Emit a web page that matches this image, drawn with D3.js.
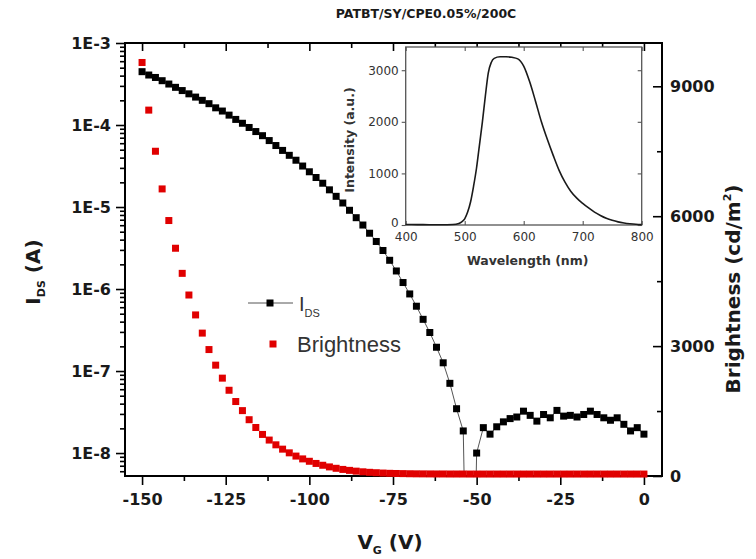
<!DOCTYPE html>
<html><head><meta charset="utf-8">
<script src="https://cdn.jsdelivr.net/npm/d3@7"></script>
<style>body{margin:0;background:#fff} svg{display:block}</style>
</head><body>
<svg id="c" width="756" height="559"></svg>
<script>
// ---------------- data ----------------
const chartTitle = "PATBT/SY/CPE0.05%/200C";
const vg = [-150,-148,-146,-144,-142,-140,-138,-136,-134,-132,
            -130,-128,-126,-124,-122,-120,-118,-116,-114,-112,
            -110,-108,-106,-104,-102,-100,-98,-96,-94,-92,
            -90,-88,-86,-84,-82,-80,-78,-76,-74,-72,
            -70,-68,-66,-64,-62,-60,-58,-56,-54,-52,
            -50,-48,-46,-44,-42,-40,-38,-36,-34,-32,
            -30,-28,-26,-24,-22,-20,-18,-16,-14,-12,
            -10,-8,-6,-4,-2,0];
const ids = [4.47e-4,4.07e-4,3.80e-4,3.47e-4,3.16e-4,2.88e-4,2.63e-4,2.40e-4,2.19e-4,2.00e-4,
             1.82e-4,1.62e-4,1.48e-4,1.32e-4,1.17e-4,1.05e-4,9.33e-5,8.32e-5,7.41e-5,6.46e-5,
             5.62e-5,4.90e-5,4.27e-5,3.72e-5,3.16e-5,2.69e-5,2.29e-5,1.95e-5,1.62e-5,1.35e-5,
             1.12e-5,9.12e-6,7.41e-6,6.03e-6,4.79e-6,3.80e-6,2.95e-6,2.24e-6,1.66e-6,1.20e-6,
             8.71e-7,6.17e-7,4.27e-7,2.95e-7,1.95e-7,1.26e-7,7.08e-8,3.47e-8,1.86e-8,1e-12,
             1.0e-8,2.04e-8,1.70e-8,2.09e-8,2.40e-8,2.63e-8,2.75e-8,3.24e-8,2.88e-8,2.45e-8,
             2.95e-8,2.69e-8,3.31e-8,2.82e-8,2.88e-8,2.75e-8,2.95e-8,3.24e-8,2.95e-8,2.69e-8,
             2.51e-8,2.69e-8,2.24e-8,1.86e-8,2.04e-8,1.70e-8];
const brightness = [9550,8450,7500,6630,5900,5260,4680,4180,3720,3300,
                    2920,2560,2260,1980,1720,1510,1300,1120,960,830,
                    720,620,535,460,395,340,290,248,210,178,
                    152,130,112,97,85,76,68,62,58,55,
                    52,50,49,48,47,47,46,46,46,45,
                    45,45,45,45,45,45,45,45,45,45,
                    45,45,45,45,45,45,45,45,45,45,
                    45,45,45,45,45,45];
const vgTicks = [-150,-125,-100,-75,-50,-25,0];
const vgMinor = [-137.5,-112.5,-87.5,-62.5,-37.5,-12.5];
const idsTicks = [1e-3,1e-4,1e-5,1e-6,1e-7,1e-8];
const brTicks = [0,3000,6000,9000];
const brMinor = [1500,4500,7500];
// inset spectrum
const wavelength = [400,420,440,460,480,490,495,500,505,510,515,520,525,530,535,540,545,550,560,570,580,590,600,610,620,630,640,650,660,670,680,690,700,710,720,730,740,750,760,770,780,790,800];
const intensity  = [10,8,6,5,10,30,60,120,250,450,750,1100,1550,2000,2500,2950,3150,3230,3260,3260,3250,3220,3080,2780,2400,2000,1660,1350,1060,830,650,520,420,330,250,185,130,90,60,40,25,14,8];
const wlTicks = [400,500,600,700,800];
const intTicks = [0,1000,2000,3000];

// ---------------- layout ----------------
const svg = d3.select("#c");
const L = 125, R = 662, T = 43, B = 476;
const FONT = "'DejaVu Sans', sans-serif";
const fmt = d => String(d);
const x = d3.scaleLinear().domain([-155.1, 5.4]).range([L, R]);
const yL = d3.scaleLog().domain([Math.pow(10,-8.28), 1e-3]).range([B, T]);
const yR = d3.scaleLinear().domain([0, 10000]).range([B, T]);

svg.append("defs").append("clipPath").attr("id","clip")
  .append("rect").attr("x",L).attr("y",T).attr("width",R-L).attr("height",B-T);

function styleAxis(g, size){
  g.select(".domain").remove();
  g.selectAll("line").attr("stroke","#000").attr("stroke-width",1.6);
  g.selectAll("text").attr("font-family",FONT).attr("font-weight","bold")
    .attr("font-size",size).attr("fill","#1a1a1a");
}

// bottom axis
const gB = svg.append("g").attr("transform",`translate(0,${B})`)
  .call(d3.axisBottom(x).tickValues(vgTicks).tickSize(9).tickPadding(9).tickFormat(fmt));
styleAxis(gB,16);
svg.append("g").attr("transform",`translate(0,${B})`)
  .call(d3.axisBottom(x).tickValues(vgMinor).tickSize(5).tickFormat(""))
  .call(g=>styleAxis(g,0));
// top axis (inward)
svg.append("g").attr("transform",`translate(0,${T})`)
  .call(d3.axisBottom(x).tickValues(vgTicks).tickSize(8).tickFormat(""))
  .call(g=>styleAxis(g,0));
svg.append("g").attr("transform",`translate(0,${T})`)
  .call(d3.axisBottom(x).tickValues(vgMinor).tickSize(5).tickFormat(""))
  .call(g=>styleAxis(g,0));

// left log axis
const gL = svg.append("g").attr("transform",`translate(${L},0)`)
  .call(d3.axisLeft(yL).tickValues(idsTicks).tickSize(9).tickPadding(5)
    .tickFormat(d => "1E" + Math.round(Math.log10(d))));
styleAxis(gL,16);
const minorLog = [];
[-9,-8,-7,-6,-5,-4].forEach(e => { for (let m=2;m<=9;m++){ const v=m*Math.pow(10,e); if (v>=yL.domain()[0] && v<1e-3) minorLog.push(v);} });
svg.append("g").attr("transform",`translate(${L},0)`)
  .call(d3.axisLeft(yL).tickValues(minorLog).tickSize(5).tickFormat(""))
  .call(g=>styleAxis(g,0));

// right axis (inward ticks)
const gR = svg.append("g").attr("transform",`translate(${R},0)`)
  .call(d3.axisRight(yR).tickValues(brTicks).tickSizeInner(-9).tickSizeOuter(0).tickPadding(8).tickFormat(fmt));
styleAxis(gR,16);
svg.append("g").attr("transform",`translate(${R},0)`)
  .call(d3.axisRight(yR).tickValues(brMinor).tickSizeInner(-5).tickSizeOuter(0).tickFormat(""))
  .call(g=>styleAxis(g,0));

// frame
svg.append("rect").attr("x",L).attr("y",T).attr("width",R-L).attr("height",B-T)
  .attr("fill","none").attr("stroke","#000").attr("stroke-width",2);

// ---------------- inset ----------------
const iL = 405.7, iR = 641.7, iT = 47, iB = 225;
const xi = d3.scaleLinear().domain([400,800]).range([iL,iR]);
const yi = d3.scaleLinear().domain([0,3450]).range([iB,iT]);
const ins = svg.append("g");
ins.append("rect").attr("x",iL).attr("y",iT).attr("width",iR-iL).attr("height",iB-iT)
  .attr("fill","#fff").attr("stroke","#555").attr("stroke-width",1.3);
function styleInset(g){
  g.select(".domain").remove();
  g.selectAll("line").attr("stroke","#555").attr("stroke-width",1.1);
  g.selectAll("text").attr("font-family",FONT).attr("font-size",12).attr("fill","#333");
}
ins.append("g").attr("transform",`translate(0,${iB})`)
  .call(d3.axisBottom(xi).tickValues(wlTicks).tickSize(-4).tickPadding(7).tickFormat(fmt))
  .call(styleInset);
ins.append("g").attr("transform",`translate(${iL},0)`)
  .call(d3.axisLeft(yi).tickValues(intTicks).tickSize(4).tickPadding(3).tickFormat(fmt))
  .call(styleInset)
  .call(g => g.selectAll("text").filter(d => d === 0).attr("dy","0.1em"));
ins.append("g").attr("transform",`translate(${iR},0)`)
  .call(d3.axisRight(yi).tickValues(intTicks).tickSizeInner(-4).tickSizeOuter(0).tickFormat(""))
  .call(styleInset);
ins.append("g").attr("transform",`translate(0,${iT})`)
  .call(d3.axisBottom(xi).tickValues(wlTicks).tickSize(4).tickFormat(""))
  .call(styleInset);
ins.append("path")
  .datum(wavelength.map((w,i)=>[w,intensity[i]]))
  .attr("fill","none").attr("stroke","#1a1a1a").attr("stroke-width",1.6)
  .attr("d", d3.line().x(d=>xi(d[0])).y(d=>yi(d[1])).curve(d3.curveMonotoneX));
ins.append("text").attr("x",(iL+iR)/2+4).attr("y",265)
  .attr("text-anchor","middle").attr("font-family",FONT).attr("font-weight","bold")
  .attr("font-size",12.5).attr("fill","#333").text("Wavelength (nm)");
ins.append("text").attr("transform","translate(354,140) rotate(-90)")
  .attr("text-anchor","middle").attr("font-family",FONT).attr("font-weight","bold")
  .attr("font-size",12.5).attr("fill","#333").text("Intensity (a.u.)");

// ---------------- data marks ----------------
const blackPts = vg.map((v,i)=>[v,ids[i]]);
const plot = svg.append("g").attr("clip-path","url(#clip)");
plot.append("path").datum(blackPts)
  .attr("fill","none").attr("stroke","#555").attr("stroke-width",1)
  .attr("d", d3.line().x(d=>x(d[0])).y(d=>yL(d[1])));
const S = 7;
plot.selectAll("rect.ids").data(blackPts).join("rect").attr("class","ids")
  .attr("x",d=>x(d[0])-S/2).attr("y",d=>yL(d[1])-S/2)
  .attr("width",S).attr("height",S).attr("fill","#000");
svg.append("g").selectAll("rect.br").data(vg.map((v,i)=>[v,brightness[i]])).join("rect").attr("class","br")
  .attr("x",d=>x(d[0])-S/2).attr("y",d=>yR(d[1])-S/2)
  .attr("width",S).attr("height",S).attr("fill","#e00000");

// ---------------- legend ----------------
const lg = svg.append("g");
lg.append("line").attr("x1",248).attr("x2",293).attr("y1",303).attr("y2",303).attr("stroke","#555").attr("stroke-width",1);
lg.append("rect").attr("x",270-S/2).attr("y",303-S/2).attr("width",S).attr("height",S).attr("fill","#000");
const t1 = lg.append("text").attr("x",299).attr("y",311).attr("font-family","'Liberation Sans', Arial, sans-serif")
  .attr("font-size",20).attr("fill","#333");
t1.append("tspan").text("I");
t1.append("tspan").attr("font-size",11).attr("dy",6).text("DS");
lg.append("rect").attr("x",273-S/2).attr("y",344-S/2).attr("width",S).attr("height",S).attr("fill","#e00000");
lg.append("text").attr("x",297).attr("y",352).attr("font-family","'Liberation Sans', Arial, sans-serif")
  .attr("font-size",22).attr("fill","#333").text("Brightness");

// ---------------- titles ----------------
svg.append("text").attr("x",426).attr("y",18).attr("text-anchor","middle")
  .attr("font-family",FONT).attr("font-weight","bold").attr("font-size",12.5).attr("fill","#1a1a1a")
  .text(chartTitle);
const xt = svg.append("text").attr("x",390).attr("y",549).attr("text-anchor","middle")
  .attr("font-family",FONT).attr("font-weight","bold").attr("font-size",20).attr("fill","#1a1a1a");
xt.append("tspan").text("V");
xt.append("tspan").attr("font-size",11).attr("dy",5).text("G");
xt.append("tspan").attr("dy",-5).text(" (V)");
const yt = svg.append("text").attr("transform","translate(40,272) rotate(-90)").attr("text-anchor","middle")
  .attr("font-family",FONT).attr("font-weight","bold").attr("font-size",20).attr("fill","#1a1a1a");
yt.append("tspan").text("I");
yt.append("tspan").attr("font-size",11).attr("dy",5).text("DS");
yt.append("tspan").attr("dy",-5).text(" (A)");
const rt = svg.append("text").attr("transform","translate(740,289) rotate(-90)").attr("text-anchor","middle")
  .attr("font-family",FONT).attr("font-weight","bold").attr("font-size",20).attr("fill","#1a1a1a");
rt.append("tspan").text("Brightness (cd/m");
rt.append("tspan").attr("font-size",11).attr("dy",-9).text("2");
rt.append("tspan").attr("dy",9).text(")");
</script>
</body></html>
